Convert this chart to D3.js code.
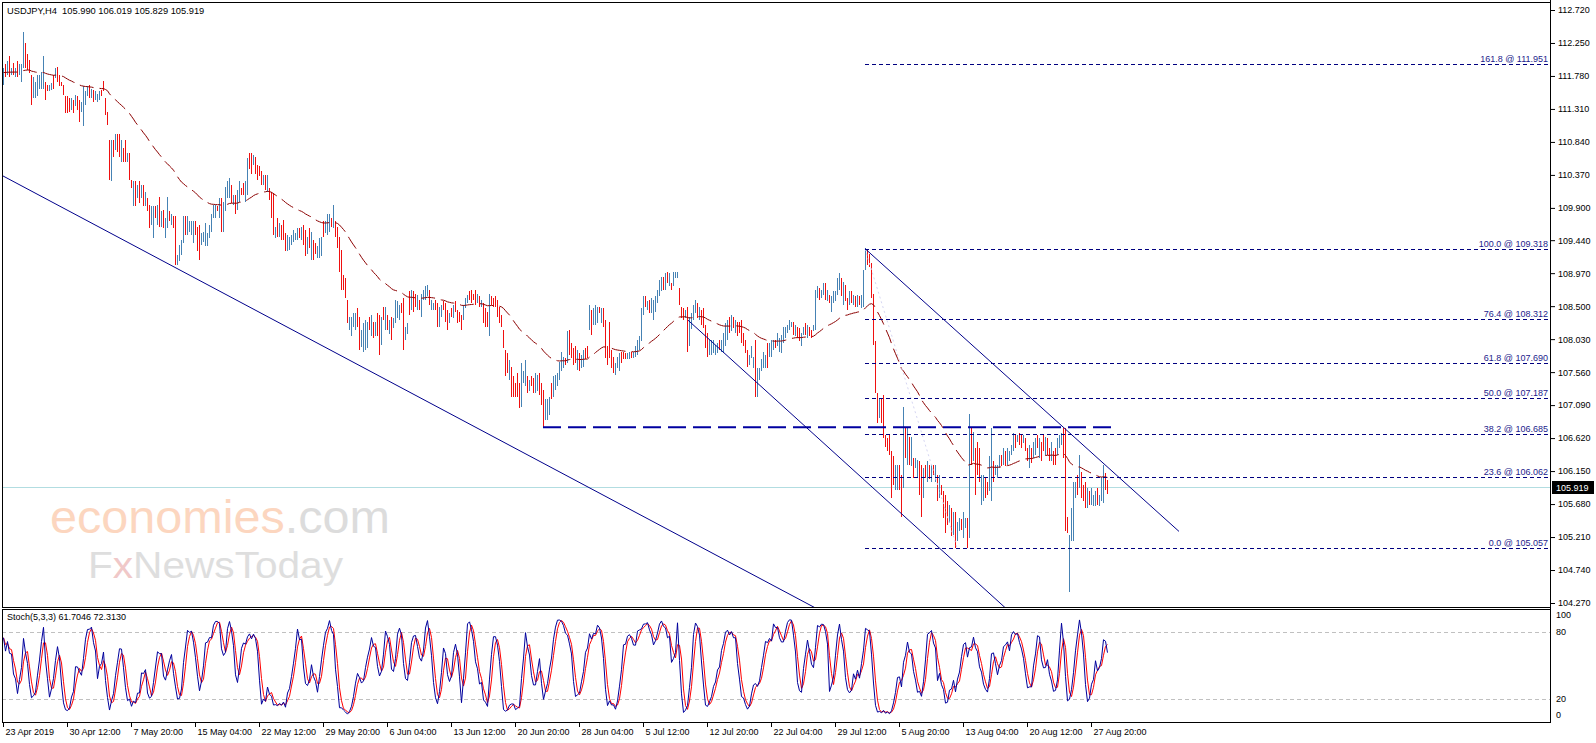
<!DOCTYPE html>
<html>
<head>
<meta charset="utf-8">
<script src="https://cdn.jsdelivr.net/npm/d3@7"></script>
<style>
html, body { margin: 0; padding: 0; background: #fff; }
svg { display: block; font-family: "Liberation Sans", Arial, sans-serif; }
</style>
</head>
<body>
<svg id="chart" width="1596" height="743"></svg>
<script>

// USDJPY H4 bars, prices in pips above 104.00 (one value per bar, 553 bars)
var hi = [
789,795,799,806,790,796,790,799,795,795,841,825,810,801,779,777,
770,779,780,784,806,770,765,765,768,779,789,791,779,770,765,749,
749,746,746,744,751,749,744,741,763,756,763,765,760,758,756,753,
756,758,771,746,727,687,687,687,696,696,696,687,675,687,668,668,
630,628,628,623,628,623,623,613,604,594,592,592,592,594,606,585,
587,575,606,585,582,578,578,523,537,544,578,578,578,571,571,571,
571,563,566,554,556,568,554,566,582,594,594,592,604,604,599,620,
628,632,623,608,608,615,628,618,625,628,661,668,668,666,663,651,
649,642,637,637,637,618,613,611,563,575,568,566,573,554,552,549,
552,559,554,561,561,563,566,559,549,561,556,544,540,535,547,549,
571,571,582,582,575,594,571,563,549,530,495,490,459,435,435,440,
440,447,435,416,426,430,428,435,438,428,428,440,438,435,449,449,
438,430,435,433,459,457,452,454,461,421,426,471,473,471,468,466,
459,468,473,478,480,473,459,454,459,454,449,452,457,454,445,440,
447,452,457,445,442,438,452,461,466,471,473,468,473,468,464,459,
454,447,442,468,464,461,464,459,449,438,416,388,383,373,364,350,
340,355,340,369,357,373,350,345,350,347,355,352,355,340,331,317,
317,321,340,350,352,355,370,385,378,376,414,416,397,390,393,388,
383,381,388,390,393,452,445,447,452,449,449,447,447,430,393,428,
388,378,369,378,383,385,385,383,383,385,385,385,393,402,407,447,
464,464,457,459,461,459,464,473,487,492,492,497,499,497,483,499,
499,499,476,449,447,445,449,435,440,452,459,454,449,445,447,423,
412,402,402,402,395,397,402,402,412,426,430,435,438,435,430,428,
428,430,412,402,388,381,393,378,402,362,362,374,385,381,397,397,
402,402,402,412,404,409,421,421,423,430,428,428,423,421,419,412,
421,426,423,421,416,423,473,478,476,473,483,483,473,466,464,471,
471,490,497,490,485,480,461,471,471,466,464,466,464,466,502,533,
530,525,511,468,400,326,319,319,324,267,262,267,243,236,224,224,
224,210,307,276,276,264,264,233,233,231,229,224,219,224,229,224,
224,224,224,210,210,195,186,181,172,167,162,157,157,143,148,146,
157,148,148,297,276,271,248,257,248,210,210,205,200,236,276,229,
224,224,238,238,248,243,248,243,252,269,267,267,269,267,267,262,
248,252,248,257,262,267,262,257,267,264,262,248,257,243,248,262,
267,269,276,276,150,124,162,200,200,210,238,214,195,200,191,186,
191,181,186,191,181,207,224,212,202
];
var lo = [
765,777,779,777,779,779,776,777,779,769,790,789,787,782,737,746,
746,749,760,760,760,744,756,756,758,760,775,770,763,763,751,725,
725,727,730,725,735,730,713,727,706,737,749,746,746,741,744,741,
744,749,756,722,708,630,628,663,673,670,663,656,656,656,656,630,
618,592,592,604,597,604,592,592,585,561,566,547,575,566,563,563,
561,547,561,571,566,561,509,509,514,523,540,551,551,556,551,540,
551,528,516,537,542,535,535,547,556,575,575,585,575,556,556,585,
604,604,597,594,582,587,599,608,608,599,608,646,639,651,639,630,
635,623,623,616,613,601,575,552,547,549,549,544,544,528,528,530,
537,542,544,544,547,544,537,521,525,533,516,516,525,518,518,521,
549,554,552,556,563,561,549,533,499,473,473,461,426,416,407,421,
416,421,388,392,385,388,390,416,407,404,407,407,381,395,430,416,
416,411,402,419,426,433,430,440,388,402,411,438,445,442,449,445,
445,435,459,459,464,452,445,445,445,421,421,435,445,428,416,426,
435,433,442,426,428,416,430,447,454,459,454,459,452,454,449,449,
426,421,421,407,452,449,449,435,426,421,390,350,355,345,321,321,
321,321,305,307,340,336,326,329,336,326,326,329,324,309,278,288,
288,295,317,321,331,336,345,357,362,366,369,381,376,366,369,359,
357,362,364,374,376,416,409,423,423,426,440,426,421,376,366,376,
362,355,352,362,357,369,374,374,374,374,376,376,378,381,388,400,
438,449,445,440,440,430,442,454,464,471,473,473,483,478,473,478,
490,490,452,433,430,433,385,393,418,430,440,433,430,423,419,390,
378,381,381,383,381,383,388,385,383,393,402,412,414,419,412,407,
412,397,393,383,364,366,376,362,321,321,345,357,362,362,362,378,
378,388,390,393,385,383,397,404,412,416,421,409,407,404,400,393,
409,409,404,407,404,414,416,461,459,461,466,459,457,454,442,454,
457,466,473,464,452,457,445,452,454,452,449,449,452,448,449,502,
509,506,461,395,326,283,290,283,262,250,243,238,176,195,188,188,
188,150,191,233,224,224,222,205,219,205,181,150,176,205,200,203,
200,210,200,172,176,181,148,127,138,141,122,124,105,115,129,131,
119,134,105,119,224,229,181,210,200,167,172,176,181,186,172,200,
210,205,219,222,224,222,224,229,238,243,248,257,252,248,255,243,
229,219,226,233,238,248,233,229,243,238,238,229,229,224,224,238,
248,252,233,129,127,43,115,115,176,181,191,176,172,162,162,167,
167,165,165,167,165,172,170,188,183
];
var cl = [
783,781,794,784,787,783,786,782,791,788,828,798,793,787,747,769,
764,771,775,778,795,751,758,763,765,765,785,775,767,765,754,731,
731,732,742,730,747,735,721,737,749,751,759,751,756,745,753,750,
753,751,760,728,713,644,672,669,690,676,671,679,661,664,665,640,
621,619,601,618,605,618,600,608,590,569,585,581,579,587,574,580,
567,568,595,574,578,565,526,520,531,539,568,558,571,567,566,563,
556,537,528,550,552,560,549,561,575,589,589,587,597,568,588,611,
622,625,603,604,588,608,621,610,612,621,648,651,646,662,645,635,
638,628,634,621,631,605,584,566,559,555,563,549,551,534,546,544,
548,555,551,557,550,558,544,530,543,540,546,523,529,531,540,542,
554,567,575,576,566,586,554,540,511,487,478,468,434,430,428,435,
434,427,400,410,416,420,419,421,430,410,423,415,395,425,435,441,
422,425,410,430,451,451,447,444,406,416,422,446,466,449,454,461,
449,460,470,473,476,457,456,452,449,429,442,448,448,435,423,437,
438,447,446,431,432,422,447,457,463,462,459,461,457,465,453,456,
433,427,426,453,455,452,453,441,432,425,396,360,362,366,332,328,
326,330,314,354,353,364,332,341,339,331,348,346,332,317,292,310,
310,315,323,343,347,350,364,378,374,368,403,390,381,372,375,381,
363,376,382,378,380,443,418,441,445,443,442,442,427,389,373,389,
368,361,365,374,376,373,377,376,381,382,378,383,389,397,402,435,
457,453,454,445,456,452,458,468,481,487,478,491,487,492,476,494,
497,497,458,437,434,442,401,425,435,447,454,438,444,428,426,398,
386,397,397,397,392,394,391,398,405,418,423,418,432,423,425,412,
416,405,398,388,370,377,389,374,341,352,358,370,379,376,371,392,
396,398,393,407,399,402,415,417,420,426,426,414,419,408,405,407,
418,413,418,410,407,421,459,474,463,470,479,465,469,457,458,467,
468,484,491,470,477,463,449,466,458,462,453,462,455,461,489,525,
514,511,473,413,344,294,312,292,277,254,248,245,193,205,215,215,
197,165,278,244,263,234,254,212,230,225,193,168,208,210,222,208,
218,213,218,181,202,184,157,140,146,160,132,149,118,136,143,135,
148,145,116,253,237,260,198,222,212,199,200,183,186,224,250,207,
220,219,233,226,242,227,242,239,248,262,253,264,256,253,264,248,
234,244,231,251,256,253,255,236,249,257,244,234,250,229,230,256,
262,265,244,166,133,104,150,179,194,188,226,186,178,172,184,172,
185,177,181,173,177,198,213,199,192
];
// bar colour: u = up bar (blue), d = down bar (red)
var dir = [
"ududududuuuddddu","uuuuudduududdddd","ddududduuuududuu","udddddududduddud",
"dududududduududu","duududduuuuduuuu","ddduuuuuuuududuu","uududuudduuddudd",
"ddududddududdduu","uuuududdududduuu","duuududdddddduuu","udduuuudududdudu",
"duduuuudduududdu","duuuuduudduudddu","dudddduuuddddudu","dddudddddddddudd",
"ddduuududduudddu","uuduuuuuududdddu","duudduduuududddd","dduuuddduuduuuuu",
"ududuuuuuudududu","uuddduduuuududdd","duuuuuduuuududud","ddddduuuduuuuudu",
"uuduuuuuuuududdu","ududduuuduududuu","uuududdudududuuu","dddddduddddddduu",
"ddudududuuddudud","udududdddududuud","uudududdduudduud","uuududuuuududdud",
"duduududdudduddu","uuddduuuududddud","uuuduuudd"
].join("");

var basePrice = 104;
var header = "USDJPY,H4  105.990 106.019 105.829 105.919";
var stochTitle = "Stoch(5,3,3) 61.7046 72.3130";
var lastPrice = 105.919;

var priceTicks = [112.72,112.25,111.78,111.31,110.84,110.37,109.90,109.44,108.97,108.50,
                  108.03,107.56,107.09,106.62,106.15,105.68,105.21,104.74,104.27];
var stochTicks = [100, 80, 20, 0];
var stochLevels = [80, 20];

var dateLabels = ["23 Apr 2019","30 Apr 12:00","7 May 20:00","15 May 04:00","22 May 12:00",
  "29 May 20:00","6 Jun 04:00","13 Jun 12:00","20 Jun 20:00","28 Jun 04:00","5 Jul 12:00",
  "12 Jul 20:00","22 Jul 04:00","29 Jul 12:00","5 Aug 20:00","13 Aug 04:00","20 Aug 12:00",
  "27 Aug 20:00"];
var barsPerLabel = 32;

// fibonacci retracement drawn from the 30 Jul high to the 7 Aug low
var fibHigh = {bar: 431, price: 109.318};
var fibLow = {bar: 477, price: 105.057};
var fibRatios = [161.8, 100.0, 76.4, 61.8, 50.0, 38.2, 23.6, 0.0];
var fibPrices = [111.951, 109.318, 108.312, 107.690, 107.187, 106.685, 106.062, 105.057];

// trend lines, [bar, price] anchor pairs
var longTrend = [[0, 110.355], [228, 106.90]];
var channelLow = [[342.5, 108.30], [498.5, 104.27]];
var channelHigh = [[431, 109.32], [588, 105.29]];
var support = {from: 270, to: 555, price: 106.775};

var emaPeriod = 50;

// ---------------------------------------------------------------

var n = Math.min(hi.length, lo.length, cl.length, dir.length);
var bars = d3.range(n).map(function(i){
    return {
        i: i,
        h: basePrice + hi[i] / 100,
        l: basePrice + lo[i] / 100,
        c: basePrice + cl[i] / 100,
        up: dir[i] === "u"
    };
});

var svg = d3.select("#chart");

var L = 2, R = 1550, mainTop = 2, mainBottom = 607, stTop = 609, stBottom = 722;

var x = d3.scaleLinear().domain([0, 552]).range([3, 1107]);
var y = d3.scaleLinear().domain([104.27, 112.72]).range([603, 10]);
var ys = d3.scaleLinear().domain([0, 100]).range([721, 610]);

var defs = svg.append("defs");
defs.append("clipPath").attr("id", "clipMain")
    .append("rect").attr("x", L).attr("y", mainTop).attr("width", R - L).attr("height", mainBottom - mainTop);
defs.append("clipPath").attr("id", "clipStoch")
    .append("rect").attr("x", L).attr("y", stTop).attr("width", R - L).attr("height", stBottom - stTop);

svg.append("rect").attr("width", 1596).attr("height", 743).attr("fill", "#fff");

// watermark
var wm = svg.append("g").attr("clip-path", "url(#clipMain)")
    .attr("font-family", "'Liberation Sans', Arial, sans-serif");
var wmTop = wm.append("text").attr("x", 50).attr("y", 533).attr("font-size", 47)
    .attr("textLength", 340).attr("lengthAdjust", "spacingAndGlyphs");
wmTop.append("tspan").attr("fill", "#fcd6bf").text("economies");
wmTop.append("tspan").attr("fill", "#dcdcdc").text(".com");
var wmBot = wm.append("text").attr("x", 88).attr("y", 578).attr("font-size", 37.5)
    .attr("textLength", 255).attr("lengthAdjust", "spacingAndGlyphs");
wmBot.append("tspan").attr("fill", "#dedede").text("F");
wmBot.append("tspan").attr("fill", "#f0c8c8").text("x");
wmBot.append("tspan").attr("fill", "#dedede").text("NewsToday");

var main = svg.append("g").attr("clip-path", "url(#clipMain)");

// bid line
main.append("line")
    .attr("x1", L).attr("x2", R)
    .attr("y1", Math.round(y(lastPrice)) + 0.5).attr("y2", Math.round(y(lastPrice)) + 0.5)
    .attr("stroke", "#b2dde1").attr("stroke-width", 1);

// bars
main.append("g").attr("shape-rendering", "crispEdges")
    .selectAll("rect").data(bars).join("rect")
    .attr("x", function(d){ return x(d.i); })
    .attr("width", 1)
    .attr("y", function(d){ return Math.round(y(d.h)); })
    .attr("height", function(d){ return Math.max(1, Math.round(y(d.l)) - Math.round(y(d.h))); })
    .attr("fill", function(d){ return d.up ? "#4682b4" : "#f01010"; });

// exponential moving average
var k = 2 / (emaPeriod + 1);
var ema = [];
bars.forEach(function(d, i){
    ema.push(i === 0 ? d.c : ema[i - 1] + k * (d.c - ema[i - 1]));
});
main.append("path")
    .datum(ema)
    .attr("fill", "none")
    .attr("stroke", "#8b0000")
    .attr("stroke-width", 1)
    .attr("stroke-dasharray", "14,6")
    .attr("d", d3.line().x(function(v, i){ return x(i) + 0.5; }).y(function(v){ return y(v); }));

// fibonacci levels
var fibLevels = fibRatios.map(function(r, j){
    return {r: r, p: fibPrices[j]};
});
main.append("line")
    .attr("x1", x(fibHigh.bar)).attr("y1", y(fibHigh.price))
    .attr("x2", x(fibLow.bar)).attr("y2", y(fibLow.price))
    .attr("stroke", "#d6d6f2").attr("stroke-width", 1).attr("stroke-dasharray", "2,3");
main.selectAll(".fib").data(fibLevels).join("line")
    .attr("class", "fib")
    .attr("x1", x(fibHigh.bar)).attr("x2", R)
    .attr("y1", function(d){ return Math.round(y(d.p)) + 0.5; })
    .attr("y2", function(d){ return Math.round(y(d.p)) + 0.5; })
    .attr("stroke", "#000080").attr("stroke-width", 1).attr("stroke-dasharray", "4,3");
main.selectAll(".fibtxt").data(fibLevels).join("text")
    .attr("class", "fibtxt")
    .attr("x", R - 2)
    .attr("y", function(d){ return Math.round(y(d.p)) - 2; })
    .attr("text-anchor", "end")
    .attr("font-size", 9)
    .attr("fill", "#1c1c8c")
    .text(function(d){ return d.r.toFixed(1) + " @ " + d.p.toFixed(3); });

// support line
main.append("line")
    .attr("x1", x(support.from)).attr("x2", x(support.to))
    .attr("y1", y(support.price)).attr("y2", y(support.price))
    .attr("stroke", "#0000a0").attr("stroke-width", 2).attr("stroke-dasharray", "18,7");

// trend lines
function extend(a, t){
    var s = (a[1][1] - a[0][1]) / (a[1][0] - a[0][0]);
    return a[0][1] + s * (t - a[0][0]);
}
var lines = [
    {a: longTrend, from: -5, to: 600},
    {a: channelLow, from: channelLow[0][0], to: 560},
    {a: channelHigh, from: channelHigh[0][0], to: channelHigh[1][0]}
];
main.selectAll(".trend").data(lines).join("line")
    .attr("class", "trend")
    .attr("x1", function(d){ return x(d.from); })
    .attr("y1", function(d){ return y(extend(d.a, d.from)); })
    .attr("x2", function(d){ return x(d.to); })
    .attr("y2", function(d){ return y(extend(d.a, d.to)); })
    .attr("stroke", "#00008b").attr("stroke-width", 1);

// stochastic (5,3,3)
var kp = 5, slow = 3, dp = 3;
var hh = [], ll = [], kLine = [], dLine = [];
bars.forEach(function(d, i){
    var w = bars.slice(Math.max(0, i - kp + 1), i + 1);
    hh.push(d3.max(w, function(b){ return b.h; }));
    ll.push(d3.min(w, function(b){ return b.l; }));
    var num = 0, den = 0;
    for (var j = Math.max(0, i - slow + 1); j <= i; j++) {
        num += bars[j].c - ll[j];
        den += hh[j] - ll[j];
    }
    kLine.push(den > 0 ? 100 * num / den : 50);
    dLine.push(d3.mean(kLine.slice(Math.max(0, i - dp + 1), i + 1)));
});

var st = svg.append("g").attr("clip-path", "url(#clipStoch)");
st.selectAll(".lvl").data(stochLevels).join("line")
    .attr("class", "lvl")
    .attr("x1", L).attr("x2", R)
    .attr("y1", function(v){ return Math.round(ys(v)) + 0.5; })
    .attr("y2", function(v){ return Math.round(ys(v)) + 0.5; })
    .attr("stroke", "#c0c0c0").attr("stroke-dasharray", "4,3");
var sline = d3.line().x(function(v, i){ return x(i) + 0.5; }).y(function(v){ return ys(v); });
st.append("path").datum(dLine).attr("fill", "none").attr("stroke", "#ff0000").attr("stroke-width", 1).attr("d", sline);
st.append("path").datum(kLine).attr("fill", "none").attr("stroke", "#00009c").attr("stroke-width", 1).attr("d", sline);

// frames
var frame = svg.append("g").attr("fill", "none").attr("stroke", "#000").attr("shape-rendering", "crispEdges");
frame.append("rect").attr("x", L + 0.5).attr("y", mainTop + 0.5).attr("width", R - L).attr("height", mainBottom - mainTop);
frame.append("rect").attr("x", L + 0.5).attr("y", stTop + 0.5).attr("width", R - L).attr("height", stBottom - stTop);
frame.append("line").attr("x1", R + 0.5).attr("x2", R + 0.5).attr("y1", 0).attr("y2", stBottom + 1);

// price axis
var ax = svg.append("g").attr("transform", "translate(" + (R + 1) + ",0)")
    .call(d3.axisRight(y).tickValues(priceTicks).tickFormat(d3.format(".3f")).tickSize(4).tickPadding(3));
ax.select(".domain").remove();
ax.selectAll("text").attr("font-size", 9).attr("font-family", "Liberation Sans, Arial, sans-serif").attr("fill", "#000");
ax.selectAll("line").attr("stroke", "#000");

// last price tag
svg.append("rect").attr("x", R + 2).attr("y", Math.round(y(lastPrice)) - 6).attr("width", 42).attr("height", 13).attr("fill", "#000");
svg.append("text").attr("x", R + 6).attr("y", Math.round(y(lastPrice)) + 4)
    .attr("font-size", 9).attr("fill", "#fff").text(lastPrice.toFixed(3));

// stochastic axis
var sax = svg.append("g").attr("transform", "translate(" + (R + 1) + ",0)")
    .call(d3.axisRight(ys).tickValues(stochTicks).tickSize(0).tickPadding(5));
sax.select(".domain").remove();
sax.selectAll(".tick").attr("transform", function(v){
    return "translate(0," + Math.min(715, Math.max(615, ys(v))) + ")";
});
sax.selectAll("text").attr("font-size", 9).attr("font-family", "Liberation Sans, Arial, sans-serif").attr("fill", "#000");

// time axis
var tickBars = dateLabels.map(function(t, j){ return j * barsPerLabel; });
var tax = svg.append("g").attr("transform", "translate(0," + (stBottom + 1) + ")")
    .call(d3.axisBottom(x).tickValues(tickBars).tickSize(4).tickPadding(3)
        .tickFormat(function(v, j){ return dateLabels[j]; }));
tax.select(".domain").remove();
tax.selectAll(".tick").attr("transform", function(v){ return "translate(" + (Math.round(x(v)) + 0.5) + ",0)"; });
tax.selectAll("line").attr("stroke", "#000");
tax.selectAll("text").attr("text-anchor", "start").attr("dx", 2).attr("dy", "0.55em")
    .attr("font-size", 9).attr("font-family", "Liberation Sans, Arial, sans-serif").attr("fill", "#000");

// titles
svg.append("text").attr("x", 7).attr("y", 14).attr("font-size", 9.3)
    .style("white-space", "pre").attr("fill", "#000").text(header);
svg.append("text").attr("x", 7).attr("y", 620).attr("font-size", 9)
    .attr("fill", "#000").text(stochTitle);

</script>
</body>
</html>
